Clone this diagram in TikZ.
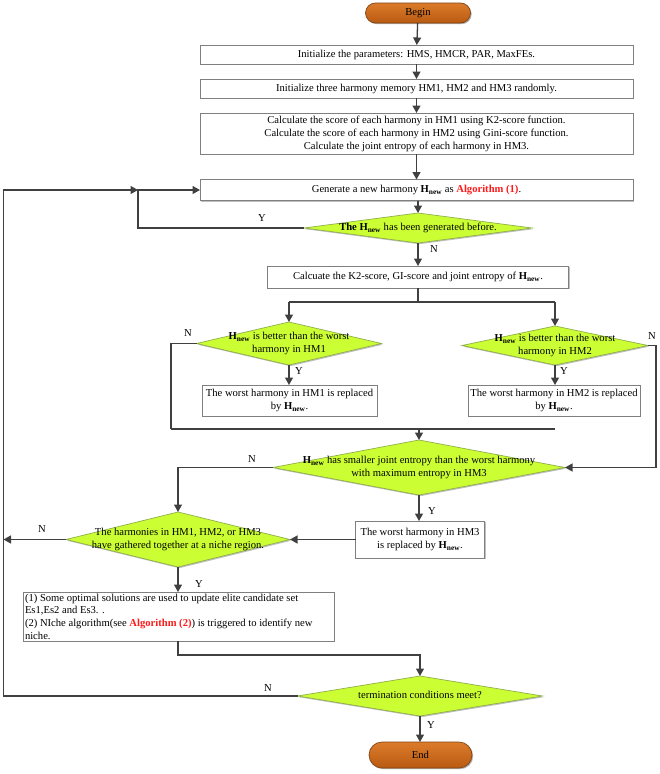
\documentclass[tikz,border=0pt]{standalone}
\usepackage{fontspec}
\setmainfont{Liberation Serif}
\usetikzlibrary{arrows.meta,shadows,shapes.geometric}
\definecolor{dlime}{HTML}{CCFF33}
\definecolor{dlimeborder}{HTML}{8FAF4A}
\definecolor{lineclr}{HTML}{404040}
\definecolor{boxborder}{HTML}{7F7F7F}
\definecolor{orangetop}{HTML}{DC7B2A}
\definecolor{orangebot}{HTML}{B85A12}
\definecolor{orangeborder}{HTML}{7F4515}
\definecolor{algred}{HTML}{FF1A1A}
\newcommand{\Hn}{\textbf{H}\textsubscript{\textbf{new}}}
\newcommand{\dtext}[1]{\makebox[0pt]{\begin{tabular}{@{}c@{}}#1\end{tabular}}}
\newcommand{\algref}[1]{\textcolor{algred}{\textbf{#1}}}
\begin{document}
\begin{tikzpicture}[x=1pt,y=-1pt,
  font=\fontsize{10.6}{13}\selectfont,
  every node/.style={inner sep=0pt, outer sep=0pt},
  procbox/.style={draw=boxborder, line width=0.7pt, fill=white, rectangle, align=center,
    drop shadow={shadow xshift=1.2pt, shadow yshift=-1.2pt, opacity=0.25, fill=black}},
  decbox/.style={draw=dlimeborder, line width=0.7pt, fill=dlime, diamond, aspect=1,
    drop shadow={shadow xshift=1.2pt, shadow yshift=-1.2pt, opacity=0.25, fill=black}},
  termbox/.style={draw=orangeborder, line width=0.7pt, rectangle, rounded corners=10pt,
    top color=orangetop, bottom color=orangebot,
    drop shadow={shadow xshift=1.2pt, shadow yshift=-1.2pt, opacity=0.3, fill=black}},
  flow/.style={draw=lineclr, line width=1.3pt, -{Triangle[length=7.5pt,width=8pt]}},
  plain/.style={draw=lineclr, line width=1.3pt},
  yn/.style={font=\fontsize{10.6}{12}\selectfont}
]
\useasboundingbox (0,0) rectangle (660,774);

% nodes
\node[termbox, minimum width=105pt, minimum height=20pt] (begin) at (418,13) {Begin};
\node[procbox, minimum width=433pt, minimum height=19pt] (b1) at (416.5,54.5)
  {Initialize the parameters: HMS, HMCR, PAR, MaxFEs.};
\node[procbox, minimum width=433pt, minimum height=19pt] (b2) at (416.5,88.5)
  {Initialize three harmony memory HM1, HM2 and HM3 randomly.};
\node[procbox, minimum width=433pt, minimum height=41pt] (b3) at (416.5,133.5)
  {Calculate the score of each harmony in HM1 using K2-score function.\\
   Calculate the score of each harmony in HM2 using Gini-score function.\\
   Calculate the joint entropy of each harmony in HM3.};
\node[procbox, minimum width=433pt, minimum height=21pt] (b4) at (416.5,190)
  {Generate a new harmony \Hn{} as \algref{Algorithm (1)}.};
\node[decbox, minimum width=228pt, minimum height=30pt] (d1) at (418,228)
  {\dtext{\textbf{The} \Hn{} has been generated before.}};
\node[procbox, minimum width=301pt, minimum height=22pt] (b5) at (418,277)
  {Calcuate the K2-score, GI-score and joint entropy of \Hn.};
\node[decbox, minimum width=185pt, minimum height=43pt] (dL) at (289,343.5)
  {\dtext{\Hn{} is better than the worst\\harmony in HM1}};
\node[decbox, minimum width=186pt, minimum height=39pt] (dR) at (555,345.5)
  {\dtext{\Hn{} is better than the worst\\harmony in HM2}};
\node[procbox, minimum width=175pt, minimum height=31pt] (bL) at (289.5,400.5)
  {The worst harmony in HM1 is replaced\\by \Hn.};
\node[procbox, minimum width=172pt, minimum height=31pt] (bR) at (554,400.5)
  {The worst harmony in HM2 is replaced\\by \Hn.};
\node[decbox, minimum width=292pt, minimum height=55pt] (d3) at (419,467.5)
  {\dtext{\Hn{} has smaller joint entropy than the worst harmony\\with maximum entropy in HM3}};
\node[decbox, minimum width=224pt, minimum height=55pt] (d4) at (178,539.5)
  {\dtext{The harmonies in HM1, HM2, or HM3\\have gathered together at a niche region.}};
\node[procbox, minimum width=129pt, minimum height=37pt] (b6) at (420,539.5)
  {The worst harmony in HM3\\is replaced by \Hn.};
\node[procbox, minimum width=311pt, minimum height=49pt, align=left,
      font=\fontsize{10.6}{12.7}\selectfont] (b7) at (178.5,616.5)
  {\begin{minipage}{307pt}\raggedright
   (1) Some optimal solutions are used to update elite candidate set\\
   Es1,Es2 and Es3. .\\
   (2) NIche algorithm(see \algref{Algorithm (2)}) is triggered to identify new\\
   niche.\end{minipage}};
\node[decbox, minimum width=245pt, minimum height=40pt] (d5) at (420,696)
  {\dtext{termination conditions meet?}};
\node[termbox, minimum width=103pt, minimum height=26pt, rounded corners=13pt] (end) at (420.5,755) {End};

% helper coordinates
\coordinate (loopin) at (138,190);
\coordinate (yleft) at (138,228);
\coordinate (split) at (418,302);
\coordinate (splitL) at (289,302);
\coordinate (splitR) at (555,302);
\coordinate (mergeL) at (171,429);
\coordinate (mergeC) at (419,429);
\coordinate (mergeR) at (555,429);
\coordinate (rightN) at (656,345.5);
\coordinate (leftout) at (3.5,539.5);
\coordinate (b7turn) at (178.5,655);
\coordinate (bigloop) at (3.5,696);

% connectors
\draw[flow] (begin) -- (b1);
\draw[flow] (b1) -- (b2);
\draw[flow] (b2) -- (b3);
\draw[flow] (b3) -- (b4);
\draw[flow] (b4.south -| d1.north) -- (d1.north);
\draw[flow] (d1.west) -- (yleft) -- (loopin) -- (b4.west);
\node[yn] (lY1) at (262,218) {Y};
\draw[flow] (d1.south) -- (b5.north -| d1.south);
\node[yn] (lN1) at (434,249) {N};
\draw[plain] (b5.south) -- (split);
\draw[plain] (splitL) -- (splitR);
\draw[flow] (splitL) -- (dL.north);
\draw[flow] (splitR) -- (dR.north);
\draw[flow] (dL.south) -- (bL.north -| dL.south);
\node[yn] (lY2) at (299,371) {Y};
\draw[flow] (dR.south) -- (bR.north -| dR.south);
\node[yn] (lY3) at (564,371) {Y};
\draw[plain] (dL.west) -| (mergeL);
\node[yn] (lN2) at (188,333) {N};
\draw[plain] (bL.south -| dL.south) -- (bL.south -| dL.south |- mergeL);
\draw[plain] (bR.south -| dR.south) -- (bR.south -| dR.south |- mergeR);
\draw[plain] (mergeL) -- (mergeR);
\draw[flow] (mergeC) -- (d3.north);
\draw[flow] (dR.east) -- (rightN) |- (d3.east);
\node[yn] (lN3) at (652,336) {N};
\draw[flow] (d3.west) -| (d4.north);
\node[yn] (lN4) at (252,459) {N};
\draw[flow] (d3.south) -- (b6.north -| d3.south);
\node[yn] (lY4) at (432,511) {Y};
\draw[flow] (b6.west) -- (d4.east);
\draw[flow] (d4.west) -- (leftout);
\node[yn] (lN5) at (42,529) {N};
\draw[flow] (d4.south) -- (b7.north -| d4.south);
\node[yn] (lY5) at (199,584) {Y};
\draw[flow] (b7.south -| d4.south) -- (b7turn -| d4.south) -| (d5.north);
\draw[flow] (d5.west) -- (bigloop) |- (loopin);
\node[yn] (lN6) at (268,688) {N};
\draw[flow] (d5.south) -- (end.north -| d5.south);
\node[yn] (lY6) at (431,725) {Y};
\end{tikzpicture}
\end{document}
